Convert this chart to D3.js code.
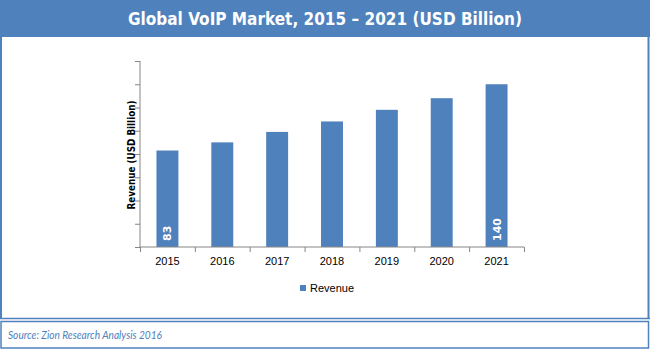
<!DOCTYPE html>
<html>
<head>
<meta charset="utf-8">
<script src="https://d3js.org/d3.v7.min.js"></script>
<style>
  body { margin: 0; background: #fff; }
</style>
</head>
<body>
<div id="chart"></div>
<script>

// data
var years = ["2015", "2016", "2017", "2018", "2019", "2020", "2021"];
var revenue = [83, 90, 99, 108, 118, 128, 140];
var shownLabels = ["83", "", "", "", "", "", "140"];
var yTicks = [0, 20, 40, 60, 80, 100, 120, 140, 160];

var W = 650, H = 350;
var blue = "#4f81bd";

var svg = d3.select("#chart")
  .append("svg")
    .attr("width", W)
    .attr("height", H);

// title bar
svg.append("rect")
    .attr("x", 0).attr("y", 0)
    .attr("width", W).attr("height", 37)
    .style("fill", blue);
svg.append("text")
    .attr("x", 325).attr("y", 25)
    .attr("text-anchor", "middle")
    .attr("textLength", 394)
    .attr("lengthAdjust", "spacingAndGlyphs")
    .style("font", "bold 17px 'DejaVu Sans Condensed', 'DejaVu Sans', sans-serif")
    .style("fill", "#fff")
    .text("Global VoIP Market, 2015 \u2013 2021 (USD Billion)");

// frame round the plot and the source box
svg.append("path")
    .attr("d", "M1,36 V319 M648.5,36 V319")
    .style("stroke", blue).style("stroke-width", 2).style("fill", "none");
svg.append("line")
    .attr("x1", 0).attr("x2", W).attr("y1", 318.5).attr("y2", 318.5)
    .style("stroke", blue).style("stroke-width", 1.5);
svg.append("rect")
    .attr("x", 1).attr("y", 321.5)
    .attr("width", 647.5).attr("height", 26.5)
    .style("fill", "none").style("stroke", blue).style("stroke-width", 1.5);
svg.append("text")
    .attr("x", 8).attr("y", 339)
    .attr("textLength", 154)
    .attr("lengthAdjust", "spacingAndGlyphs")
    .style("font", "italic 11.5px Lato, sans-serif")
    .style("fill", blue)
    .text("Source: Zion Research Analysis 2016");

// plot area
var margin = {top: 61, left: 140},
    width = 384,
    height = 186;

var g = svg.append("g")
    .attr("transform", "translate(" + margin.left + "," + margin.top + ")");

var x = d3.scaleBand()
    .domain(years)
    .range([0, width])
    .paddingInner(0.6)
    .paddingOuter(0.3);

var y = d3.scaleLinear()
    .domain([0, 160])
    .range([height, 0]);

g.selectAll(".bar")
    .data(revenue)
  .enter().append("rect")
    .attr("class", "bar")
    .attr("x", function(d, i) { return x(years[i]); })
    .attr("width", x.bandwidth())
    .attr("y", function(d) { return y(d); })
    .attr("height", function(d) { return height - y(d); })
    .style("fill", blue);

// value labels inside bars, rotated
g.selectAll(".val")
    .data(shownLabels)
  .enter().append("text")
    .attr("class", "val")
    .attr("transform", function(d, i) {
      return "translate(" + (x(years[i]) + x.bandwidth() / 2 + 4) + "," + (height - 6) + ") rotate(-90)";
    })
    .style("font", "bold 11px 'DejaVu Sans', sans-serif")
    .style("fill", "#fff")
    .text(function(d) { return d; });

// y axis
var yAxis = g.append("g")
    .call(d3.axisLeft(y).tickValues(yTicks).tickSize(5).tickFormat(""));

// x axis with ticks between categories
var xBounds = d3.scaleLinear().domain([0, years.length]).range([0, width]);
var xAxis = g.append("g")
    .attr("transform", "translate(0," + height + ")")
    .call(d3.axisBottom(xBounds).tickValues(d3.range(years.length + 1)).tickSize(5).tickFormat(""));

[yAxis, xAxis].forEach(function(a) {
  a.selectAll("path, line").style("stroke", "#868686");
  a.select(".domain").attr("d", a === yAxis ? "M0,0V" + height : "M0,0H" + width);
});

g.selectAll(".yr")
    .data(years)
  .enter().append("text")
    .attr("class", "yr")
    .attr("x", function(d) { return x(d) + x.bandwidth() / 2; })
    .attr("y", height + 18)
    .attr("text-anchor", "middle")
    .style("font", "11px 'Liberation Sans', Arial, sans-serif")
    .style("fill", "#000")
    .text(function(d) { return d; });

g.append("text")
    .attr("transform", "translate(-5," + (height / 2 + 1) + ") rotate(-90)")
    .attr("text-anchor", "middle")
    .attr("textLength", 109)
    .attr("lengthAdjust", "spacingAndGlyphs")
    .style("font", "bold 11px 'DejaVu Sans Condensed', 'DejaVu Sans', sans-serif")
    .style("fill", "#000")
    .text("Revenue (USD Billion)");

// legend
svg.append("rect")
    .attr("x", 300).attr("y", 285)
    .attr("width", 6).attr("height", 6)
    .style("fill", blue);
svg.append("text")
    .attr("x", 310).attr("y", 291.5)
    .style("font", "11px 'Liberation Sans', Arial, sans-serif")
    .style("fill", "#000")
    .text("Revenue");

</script>
</body>
</html>
